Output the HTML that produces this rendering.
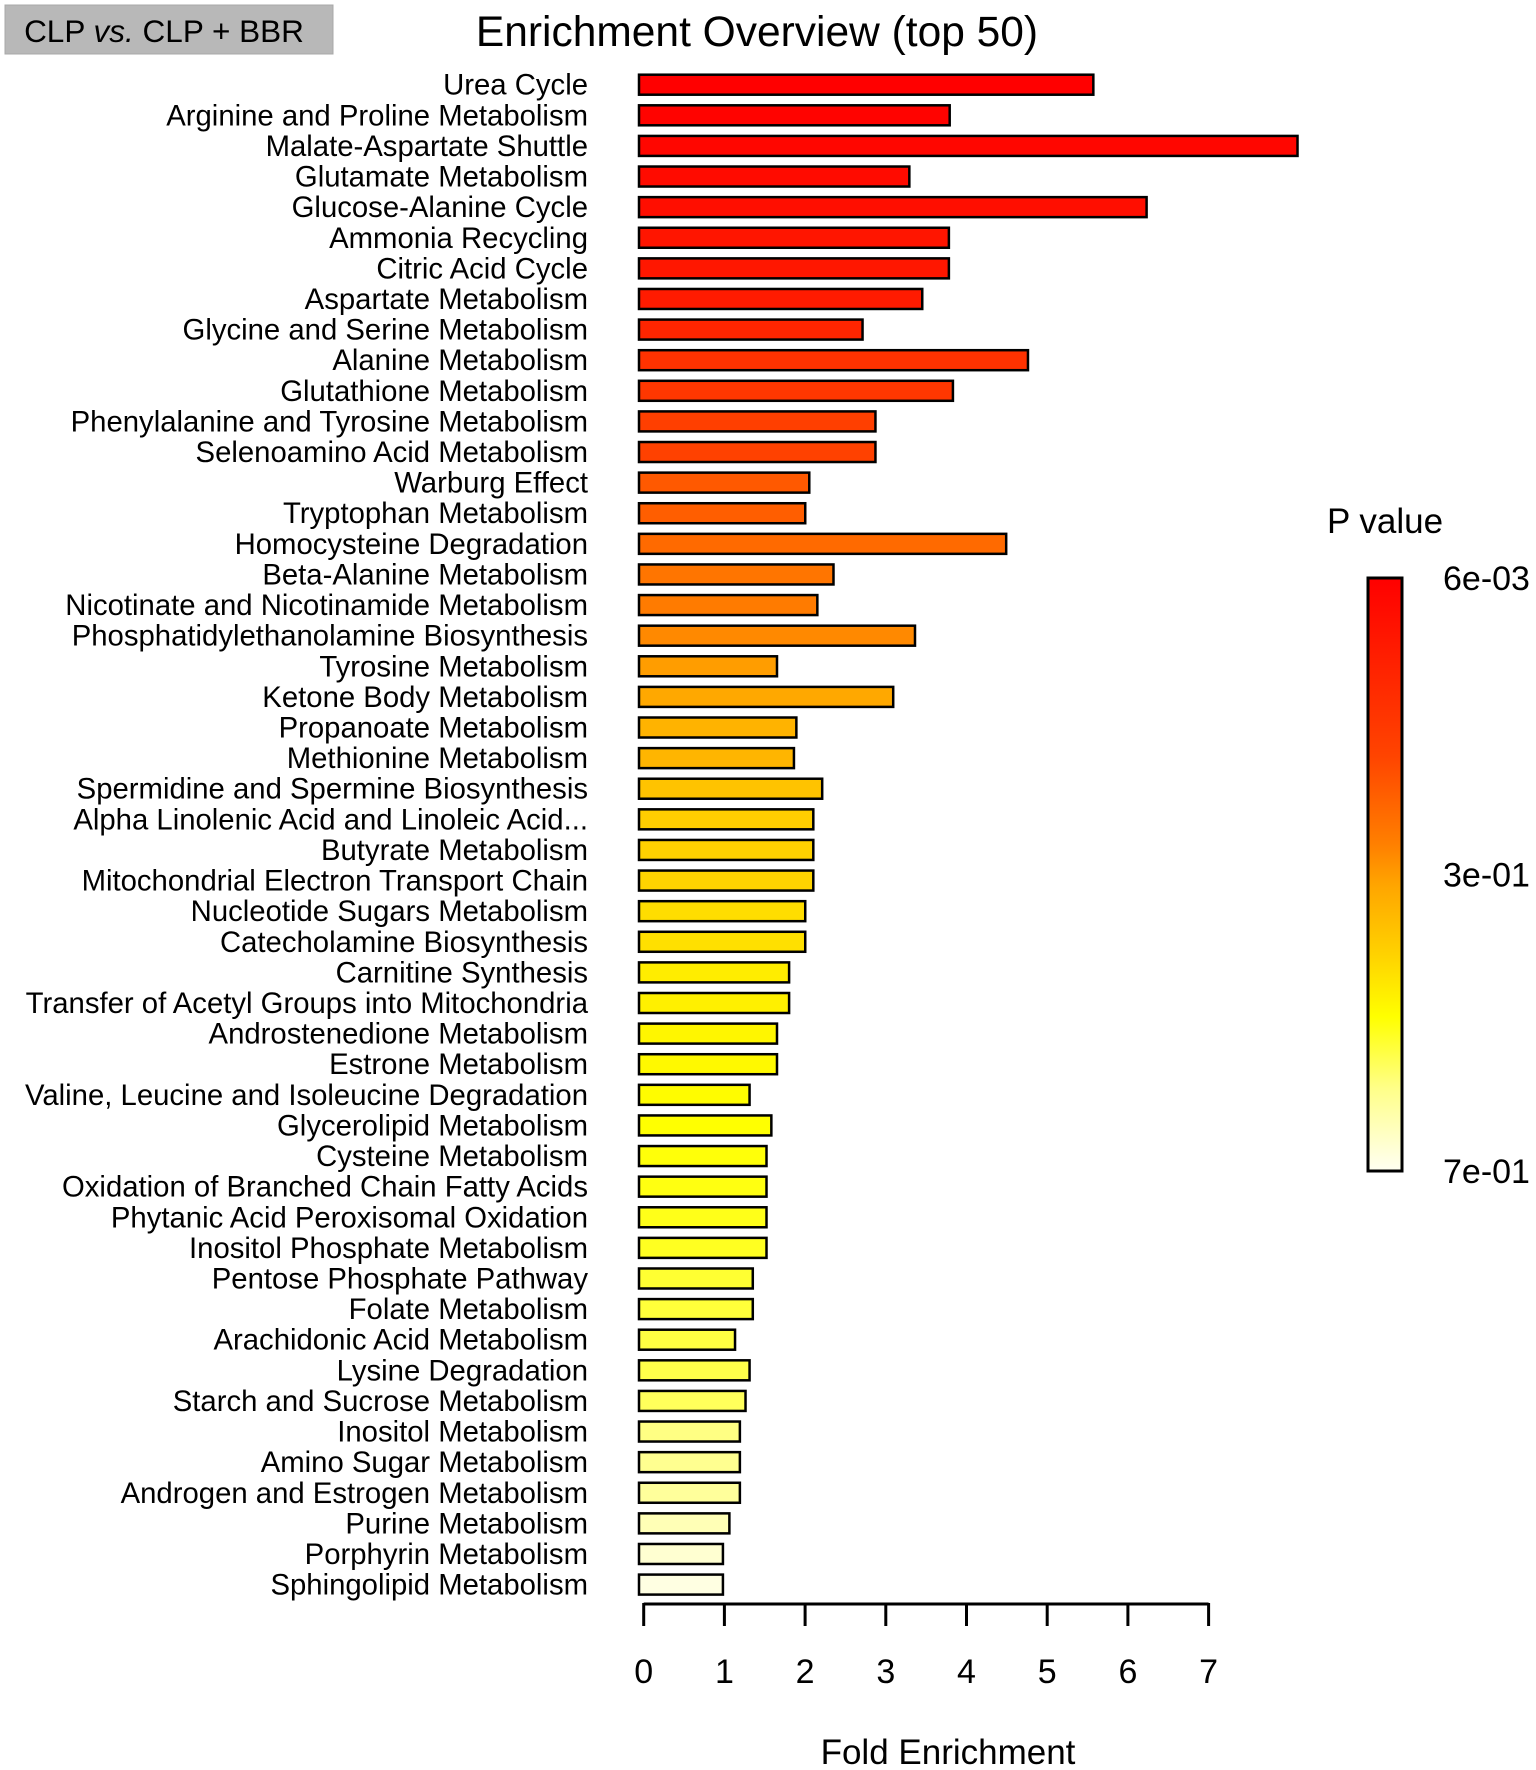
<!DOCTYPE html>
<html><head><meta charset="utf-8"><style>
html,body{margin:0;padding:0;background:#fff}
svg{display:block;font-family:"Liberation Sans",Arial,sans-serif}
</style></head><body>
<svg id="chart" width="1536" height="1770" viewBox="0 0 1536 1770">
<defs>
<linearGradient id="heat" x1="0" y1="0" x2="0" y2="1">
<stop offset="0" stop-color="#ff0000"/>
<stop offset="0.3" stop-color="#ff4400"/>
<stop offset="0.45" stop-color="#ff8000"/>
<stop offset="0.52" stop-color="#ffa600"/>
<stop offset="0.63" stop-color="#ffd000"/>
<stop offset="0.74" stop-color="#ffff00"/>
<stop offset="0.86" stop-color="#ffff88"/>
<stop offset="1" stop-color="#fffff2"/>
</linearGradient>
</defs>
<rect x="5" y="5" width="328" height="49" fill="#b8b8b8" stroke="#a8a8a8"/>
<text x="164" y="42" font-size="31.5" text-anchor="middle">CLP <tspan font-style="italic">vs.</tspan> CLP + BBR</text>
<text x="757" y="46" font-size="42.5" text-anchor="middle">Enrichment Overview (top 50)</text>
<g id="bars"></g>
<g id="labels"></g>
<g id="axis"></g>
<text x="948" y="1764" font-size="35" text-anchor="middle">Fold Enrichment</text>
<text x="1385" y="533" font-size="35" text-anchor="middle">P value</text>
<rect x="1368" y="578" width="34" height="593" fill="url(#heat)" stroke="#000" stroke-width="3"/>
<g id="legendTicks"></g>
</svg>
<script>
const categories = ["Urea Cycle","Arginine and Proline Metabolism","Malate-Aspartate Shuttle","Glutamate Metabolism","Glucose-Alanine Cycle","Ammonia Recycling","Citric Acid Cycle","Aspartate Metabolism","Glycine and Serine Metabolism","Alanine Metabolism","Glutathione Metabolism","Phenylalanine and Tyrosine Metabolism","Selenoamino Acid Metabolism","Warburg Effect","Tryptophan Metabolism","Homocysteine Degradation","Beta-Alanine Metabolism","Nicotinate and Nicotinamide Metabolism","Phosphatidylethanolamine Biosynthesis","Tyrosine Metabolism","Ketone Body Metabolism","Propanoate Metabolism","Methionine Metabolism","Spermidine and Spermine Biosynthesis","Alpha Linolenic Acid and Linoleic Acid...","Butyrate Metabolism","Mitochondrial Electron Transport Chain","Nucleotide Sugars Metabolism","Catecholamine Biosynthesis","Carnitine Synthesis","Transfer of Acetyl Groups into Mitochondria","Androstenedione Metabolism","Estrone Metabolism","Valine, Leucine and Isoleucine Degradation","Glycerolipid Metabolism","Cysteine Metabolism","Oxidation of Branched Chain Fatty Acids","Phytanic Acid Peroxisomal Oxidation","Inositol Phosphate Metabolism","Pentose Phosphate Pathway","Folate Metabolism","Arachidonic Acid Metabolism","Lysine Degradation","Starch and Sucrose Metabolism","Inositol Metabolism","Amino Sugar Metabolism","Androgen and Estrogen Metabolism","Purine Metabolism","Porphyrin Metabolism","Sphingolipid Metabolism"];
const foldEnrichment = [5.63,3.85,8.16,3.35,6.29,3.84,3.84,3.51,2.77,4.82,3.89,2.93,2.93,2.11,2.06,4.55,2.41,2.21,3.42,1.71,3.15,1.95,1.92,2.27,2.16,2.16,2.16,2.06,2.06,1.86,1.86,1.71,1.71,1.37,1.64,1.58,1.58,1.58,1.58,1.41,1.41,1.19,1.37,1.32,1.25,1.25,1.25,1.12,1.04,1.04];
const pValues = [0.006,0.015,0.025,0.04,0.05,0.07,0.075,0.09,0.12,0.16,0.175,0.2,0.205,0.25,0.26,0.28,0.3,0.31,0.33,0.355,0.37,0.39,0.395,0.42,0.44,0.445,0.45,0.465,0.47,0.49,0.495,0.505,0.51,0.515,0.52,0.525,0.53,0.535,0.54,0.55,0.555,0.56,0.565,0.575,0.6,0.61,0.62,0.645,0.67,0.685];
const xTicks = [0,1,2,3,4,5,6,7];
const legendTickLabels = ["6e-03","3e-01","7e-01"];
const legendTickValues = [0.006,0.353,0.7];

const NS="http://www.w3.org/2000/svg";
const barX0=639, axX0=643.7, unit=80.7, y0=84.7, step=30.61, bh=20;
function xs(v){return axX0+v*unit;}
function bx(v){return barX0+v*unit;}
function ys(i){return y0+i*step;}
const pMin=0.006,pMax=0.7;
const stops=[[0,[255,0,0]],[0.3,[255,68,0]],[0.45,[255,128,0]],[0.52,[255,166,0]],[0.63,[255,208,0]],[0.74,[255,255,0]],[0.86,[255,255,136]],[1,[255,255,242]]];
function colorFor(p){
  let t=(p-pMin)/(pMax-pMin); t=Math.max(0,Math.min(1,t));
  for(let k=1;k<stops.length;k++){
    if(t<=stops[k][0]){
      const a=stops[k-1],b=stops[k],f=(t-a[0])/(b[0]-a[0]);
      const c=a[1].map((v,j)=>Math.round(v+(b[1][j]-v)*f));
      return "rgb("+c.join(",")+")";
    }
  }
  return "rgb(255,255,242)";
}
const gb=document.getElementById("bars"), gl=document.getElementById("labels"), ga=document.getElementById("axis"), gt=document.getElementById("legendTicks");
categories.forEach((c,i)=>{
  const r=document.createElementNS(NS,"rect");
  r.setAttribute("x",bx(0)); r.setAttribute("y",ys(i)-bh/2);
  r.setAttribute("width",bx(foldEnrichment[i])-bx(0)); r.setAttribute("height",bh);
  r.setAttribute("fill",colorFor(pValues[i])); r.setAttribute("stroke","#000"); r.setAttribute("stroke-width","2.5");
  
  
  gb.appendChild(r);
  const t=document.createElementNS(NS,"text");
  t.setAttribute("x",588); t.setAttribute("y",ys(i)+10);
  t.setAttribute("font-size","29.3"); t.setAttribute("text-anchor","end");
  t.textContent=c;
  
  
  gl.appendChild(t);
});
const axLine=document.createElementNS(NS,"line");
axLine.setAttribute("x1",xs(0)); axLine.setAttribute("x2",xs(7)); axLine.setAttribute("y1",1604); axLine.setAttribute("y2",1604);
axLine.setAttribute("stroke","#000"); axLine.setAttribute("stroke-width","3");


ga.appendChild(axLine);
xTicks.forEach(v=>{
  const l=document.createElementNS(NS,"line");
  l.setAttribute("x1",xs(v)); l.setAttribute("x2",xs(v)); l.setAttribute("y1",1603); l.setAttribute("y2",1626);
  l.setAttribute("stroke","#000"); l.setAttribute("stroke-width","3");
  
  
  ga.appendChild(l);
  const t=document.createElementNS(NS,"text");
  t.setAttribute("x",xs(v)); t.setAttribute("y",1683);
  t.setAttribute("font-size","34"); t.setAttribute("text-anchor","middle");
  t.textContent=v;
  
  
  ga.appendChild(t);
});
legendTickLabels.forEach((s,i)=>{
  const t=document.createElementNS(NS,"text");
  const y=578+(legendTickValues[i]-pMin)/(pMax-pMin)*593;
  t.setAttribute("x",1443); t.setAttribute("y",y+12);
  t.setAttribute("font-size","34");
  t.textContent=s;
  
  
  gt.appendChild(t);
});
</script>
</body></html>
